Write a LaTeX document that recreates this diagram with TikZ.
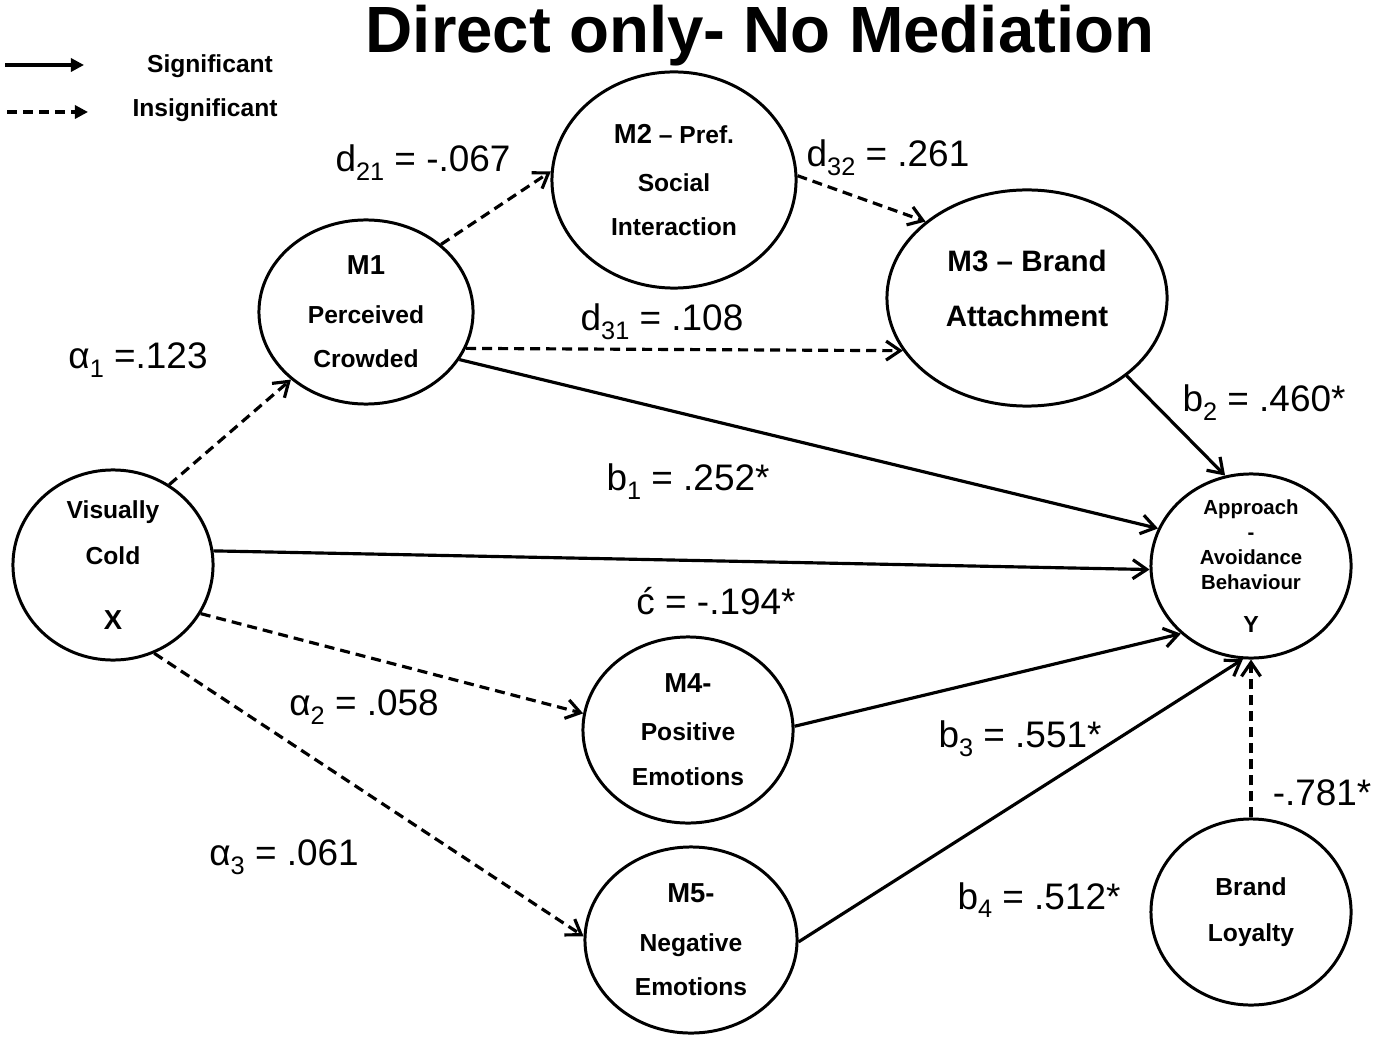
\documentclass[tikz,border=0pt]{standalone}
\usepackage{fontspec}
\setmainfont{Liberation Sans}
\usepackage{tikz}
\usetikzlibrary{arrows.meta,shapes.geometric}

\newcommand{\mlab}[1]{{\fontsize{7.8}{13}\selectfont #1}}
\newcommand{\smlab}[1]{{\fontsize{6.6}{13}\selectfont #1}}
\newcommand{\lsub}[1]{\raisebox{-0.45ex}{\fontsize{7.2}{8}\selectfont #1}}

\begin{document}
\begin{tikzpicture}[x=0.01cm, y=-0.01cm,
  lbl/.style={font=\fontsize{10.5}{12}\selectfont, inner sep=1pt},
  titlelbl/.style={font=\fontsize{18.6}{22}\selectfont\bfseries, inner sep=0pt, anchor=base},
  legtxt/.style={font=\fontsize{7}{8}\selectfont\bfseries, inner sep=1pt},
  latent/.style={ellipse, draw=black, line width=0.85pt, align=center, inner xsep=0pt, inner ysep=-4pt, font=\fontsize{7}{12.5}\selectfont\bfseries},
  sigedge/.style={draw=black, line width=0.9pt, -{Straight Barb[length=1.4mm,width=1.9mm]}},
  insigedge/.style={sigedge, dash pattern=on 1mm off 0.6mm},
  legsolid/.style={draw=black, line width=0.9pt, -{Triangle[length=1.3mm,width=1.3mm]}},
  legdash/.style={legsolid, dash pattern=on 1mm off 0.6mm}
]
\useasboundingbox (0,0) rectangle (1374,1037);

\node[titlelbl] (title) at (760,53) {Direct only- No Mediation};

\coordinate (sigs) at (5,65);
\coordinate (sige) at (84,65);
\coordinate (inss) at (7,112);
\coordinate (inse) at (88,112);
\draw[legsolid] (sigs) -- (sige);
\draw[legdash] (inss) -- (inse);
\node[legtxt] (sigtxt) at (210,66) {Significant};
\node[legtxt] (instxt) at (205,110) {Insignificant};

\node[latent, minimum width=2cm, minimum height=1.9cm] (x) at (113,565) {Visually\\[0.6pt]Cold\\[6pt]\mlab{X}};
\node[latent, minimum width=2.14cm, minimum height=1.84cm] (m1) at (366,312) {\mlab{M1}\\[1.4pt]Perceived\\Crowded};
\node[latent, minimum width=2.44cm, minimum height=2.16cm] (m2) at (674,180) {\mlab{M2} – Pref.\\[1.4pt]Social\\Interaction};
\node[latent, minimum width=2.8cm, minimum height=2.16cm, font=\fontsize{8.4}{15.6}\selectfont\bfseries] (m3) at (1027,298) {M3 – Brand\\Attachment\\[-10pt]\mbox{}};
\node[latent, minimum width=2cm, minimum height=1.84cm, font=\fontsize{5.8}{7.1}\selectfont\bfseries] (y) at (1251,566) {Approach\\-\\Avoidance\\Behaviour\\[5.2pt]\smlab{Y}};
\node[latent, minimum width=2.1cm, minimum height=1.86cm] (m4) at (688,730) {\mlab{M4-}\\[1.2pt]Positive\\[0.3pt]Emotions};
\node[latent, minimum width=2.12cm, minimum height=1.86cm] (m5) at (691,940) {\mlab{M5-}\\[1.4pt]Negative\\Emotions};
\node[latent, minimum width=2cm, minimum height=1.86cm] (bl) at (1251,912) {Brand\\[0.6pt]Loyalty};

\draw[insigedge] (x.55) -- (m1.222);
\draw[insigedge] (m1.42) -- (m2.176);
\draw[insigedge] (m2.2) -- (m3.143);
\draw[insigedge] (m1.-20) -- (m3.203);
\draw[sigedge] (m1.-27) -- (y.158);
\draw[sigedge] (m3.-38) -- (y.106);
\draw[sigedge] (x.8) -- (y.182);
\draw[insigedge] (x.-29) -- (m4.171);
\draw[insigedge] (x.-65) -- (m5.178);
\draw[sigedge] (m4.2) -- (y.224);
\draw[sigedge] (m5.-1) -- (y.265);
\draw[insigedge] (bl.north) -- (y.south);

\node[lbl] (d21) at (423,163) {d\lsub{21} = -.067};
\node[lbl] (d32) at (888,158) {d\lsub{32} = .261};
\node[lbl] (d31) at (662,322) {d\lsub{31} = .108};
\node[lbl] (a1) at (138,360) {α\lsub{1} =.123};
\node[lbl] (b1) at (688,482) {b\lsub{1} = .252*};
\node[lbl] (b2) at (1264,403) {b\lsub{2} = .460*};
\node[lbl] (cp) at (716,601) {ć = -.194*};
\node[lbl] (a2) at (364,707) {α\lsub{2} = .058};
\node[lbl] (b3) at (1020,739) {b\lsub{3} = .551*};
\node[lbl] (a3) at (284,857) {α\lsub{3} = .061};
\node[lbl] (b4) at (1039,900) {b\lsub{4} = .512*};
\node[lbl] (blw) at (1322,793) {-.781*};

\end{tikzpicture}
\end{document}
